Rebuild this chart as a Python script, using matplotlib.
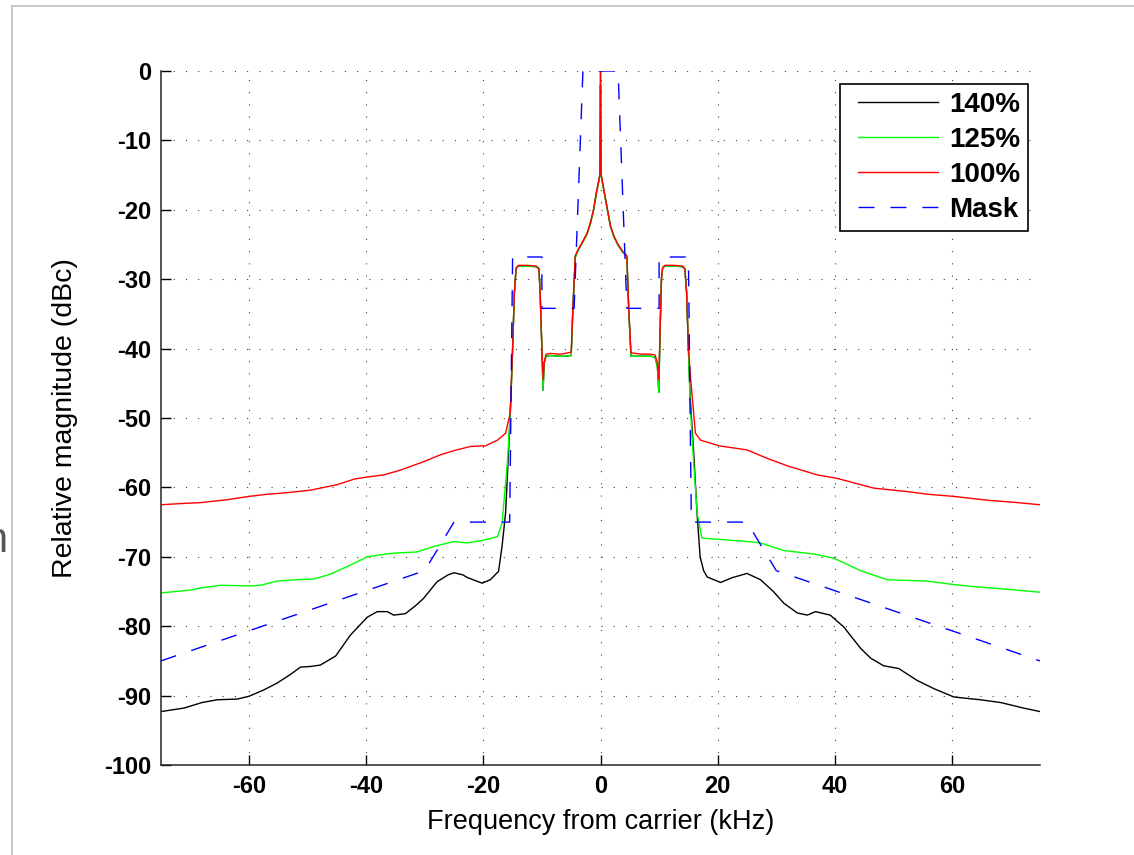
import matplotlib
matplotlib.use("Agg")
import matplotlib.pyplot as plt
from matplotlib.lines import Line2D
from matplotlib.legend_handler import HandlerLine2D

plt.rcParams['font.family'] = ['Liberation Sans', 'DejaVu Sans']

# shared inner part (sidebands + analog carrier), frequency in kHz
core_f = [-15.0, -14.7, -14.4, -14.0, -12.5, -11.0, -10.5, -10.3, -10.0, -9.8, -9.6, -9.3,
          -8.5, -7.0, -6.0, -5.0, -4.7, -4.3, -3.8, -3.0, -2.3, -1.7, -1.2, -0.7, -0.3, -0.1,
          0.0, 0.1, 0.3, 0.7, 1.2, 1.7, 2.3, 3.0, 3.8, 4.5, 4.8, 5.2, 6.0, 7.0, 8.5, 9.3,
          9.7, 9.95, 10.15, 10.4, 10.6, 11.0, 12.5, 14.0, 14.4, 14.7, 15.0]
core_red = [-40, -32, -28.4, -28.0, -28.0, -28.1, -28.5, -32, -40, -44.5, -42, -40.8,
            -40.7, -40.8, -40.7, -40.5, -34, -26.6, -25.7, -24.5, -23.4, -21.8, -20.0, -17.5, -15.8, -14.8,
            0.0, -14.8, -15.8, -17.7, -20.0, -22.3, -23.8, -25.0, -26.0, -26.6, -34, -40.6, -40.7, -40.8, -40.8, -40.9,
            -42, -44.5, -38, -30, -28.3, -28.0, -28.0, -28.1, -28.5, -32, -40]
core_green = [-40, -32, -28.4, -28.1, -28.1, -28.2, -28.5, -32, -40, -46, -42, -41.1,
              -41.0, -41.1, -41.1, -41.0, -34, -26.8, -25.8, -24.6, -23.5, -21.9, -20.1, -17.6, -15.9, -15.0,
              -2.0, -15.0, -15.9, -17.8, -20.1, -22.4, -23.9, -25.1, -26.1, -26.8, -34, -41.1, -41.1, -41.1, -41.1, -41.2,
              -42.5, -46.3, -38, -30, -28.4, -28.1, -28.1, -28.2, -28.5, -32, -40]

# 140 %
black_left_f = [-75, -71.1, -68, -65.4, -62, -60, -57.5, -55.2, -53, -51.2, -49.5, -47.8, -45.2,
                -42.7, -39.8, -38.1, -36.4, -35.3, -33.3, -31.5, -30.2, -27.9, -26, -25.0, -23.5,
                -22.7, -20.2, -18.8, -17.4, -16.8, -16.2, -15.7, -15.3]
black_left_db = [-92.3, -91.8, -91.0, -90.6, -90.5, -90.1, -89.2, -88.2, -87.0, -85.9, -85.8, -85.6, -84.3,
                 -81.3, -78.7, -77.9, -77.9, -78.4, -78.2, -77.0, -76.0, -73.6, -72.6, -72.3, -72.6,
                 -73.0, -73.8, -73.3, -72.1, -68.5, -63.7, -55, -47]
black_right_f = [15.3, 15.9, 16.5, 17.0, 17.6, 18.2, 20.5, 22.5, 25.0, 27.3, 29.5, 31.3, 33.6, 35.3,
                 36.7, 39.2, 41.5, 44.4, 46.1, 48.3, 50.9, 54.0, 56.9, 60.3, 64.8, 68.3, 72.2, 75]
black_right_db = [-47, -55, -64, -70, -72, -72.9, -73.7, -73.0, -72.4, -73.3, -75.0, -76.7, -78.1, -78.4,
                  -77.9, -78.4, -80.1, -83.2, -84.6, -85.7, -86.1, -87.8, -89.0, -90.2, -90.6, -91.0, -91.8, -92.3]

# 125 %
green_left_f = [-75, -70, -68.3, -64.8, -59.7, -58, -55.2, -52, -48.9, -46.1, -42.7, -39.8, -35.8,
                -31.3, -28.4, -25.0, -22.7, -19.9, -17.6, -16.8, -15.9, -15.3]
green_left_db = [-75.2, -74.8, -74.5, -74.1, -74.2, -74.1, -73.5, -73.3, -73.2, -72.5, -71.2, -70.0, -69.5,
                 -69.3, -68.5, -67.8, -68.0, -67.6, -67.1, -65.2, -56.5, -48]
green_right_f = [15.3, 15.9, 16.5, 17.3, 20.5, 25, 27.3, 31.3, 36.4, 39.8, 44.4, 48.9, 55.7, 60.3,
                 63.7, 68.3, 75]
green_right_db = [-48, -56.5, -63.7, -67.3, -67.5, -67.8, -68.0, -69.1, -69.6, -70.2, -72.0, -73.3, -73.5, -74.0,
                  -74.3, -74.6, -75.1]

# 100 %
red_left_f = [-75, -71, -68.3, -64, -60, -57, -54, -49.5, -44.9, -42, -39.8, -37, -34.1, -30.2,
              -27.3, -25.0, -22.2, -19.6, -17.6, -16.2, -15.4]
red_left_db = [-62.5, -62.3, -62.2, -61.8, -61.3, -61.0, -60.8, -60.4, -59.6, -58.8, -58.5, -58.2, -57.5, -56.3,
               -55.3, -54.7, -54.1, -54.0, -53.2, -52.2, -49.3]
red_right_f = [15.4, 16.2, 17.1, 20.2, 25, 28.4, 31.9, 37, 40.4, 46.6, 52.3, 56, 60.3, 66.6, 70, 75]
red_right_db = [-44.5, -52.2, -53.2, -54.0, -54.6, -55.8, -56.9, -58.2, -58.7, -60.1, -60.6, -61.0, -61.3,
                -61.9, -62.1, -62.5]

mask_f = [-75, -30, -25, -15.5, -15.0, -10, -10, -4.5, -3, 3, 4.5, 10, 10, 15.0, 15.5, 25, 30, 75]
mask_db = [-85, -72, -65, -65, -26.8, -26.8, -34.2, -34.2, 0, 0, -34.2, -34.2, -26.8, -26.8, -65, -65, -72, -85]

xticks = [-60, -40, -20, 0, 20, 40, 60]
yticks = [0, -10, -20, -30, -40, -50, -60, -70, -80, -90, -100]

fig = plt.figure(figsize=(11.34, 8.55), dpi=100)
ax = fig.add_axes([161 / 1134, 90 / 855, 879 / 1134, 694 / 855])

ax.plot(black_left_f + core_f + black_right_f, black_left_db + core_green + black_right_db,
        color='black', lw=1.0, label='140%')
ax.plot(green_left_f + core_f + green_right_f, green_left_db + core_green + green_right_db,
        color='#00ff00', lw=1.0, label='125%')
ax.plot(red_left_f + core_f + red_right_f, red_left_db + core_red + red_right_db,
        color='red', lw=1.0, label='100%')
ax.plot(mask_f, mask_db, color='blue', lw=1.0, dashes=(11.5, 11.5), label='Mask')

ax.set_xlim(-75, 75)
ax.set_ylim(-100, 0)
ax.set_xticks(xticks)
ax.set_xticklabels([str(v) for v in xticks])
ax.set_yticks(yticks)
ax.set_yticklabels([str(v) for v in yticks])
ax.tick_params(direction='in', length=7, width=1.0, labelsize=17, pad=7)
for lab in ax.get_xticklabels() + ax.get_yticklabels():
    lab.set_fontweight('bold')
ax.grid(True, color='0.25', linestyle=(0, (1, 10)), linewidth=0.8)

for s in ['top', 'right']:
    ax.spines[s].set_visible(False)
for s in ['left', 'bottom']:
    ax.spines[s].set_linewidth(1.1)
    ax.spines[s].set_color('0.15')

ax.set_xlabel('Frequency from carrier (kHz)', fontsize=19.5, labelpad=8)
ax.set_ylabel('Relative magnitude (dBc)', fontsize=20.5, labelpad=19)

leg = ax.legend(loc='upper right', bbox_to_anchor=(0.986, 0.981), borderaxespad=0,
                fontsize=20, handlelength=3.24, handletextpad=0.4, labelspacing=0.33,
                fancybox=False, framealpha=1, edgecolor='black', borderpad=0.27,
                handler_map={Line2D: HandlerLine2D(xpad=0.36)})
leg.get_frame().set_linewidth(1.2)
for t in leg.get_texts():
    t.set_fontweight('bold')

# screenshot frame
fig.add_artist(Line2D([12 / 1134, 1], [1 - 6 / 855, 1 - 6 / 855], color='#c0c0c0', lw=1.2))
fig.add_artist(Line2D([12 / 1134, 12 / 1134], [0, 1 - 6 / 855], color='#c0c0c0', lw=1.2))
fig.text(-16 / 1134, 1 - 552 / 855, 'n', fontsize=30, color='#555555', ha='left', va='baseline')

fig.savefig('out.png', dpi=100)
